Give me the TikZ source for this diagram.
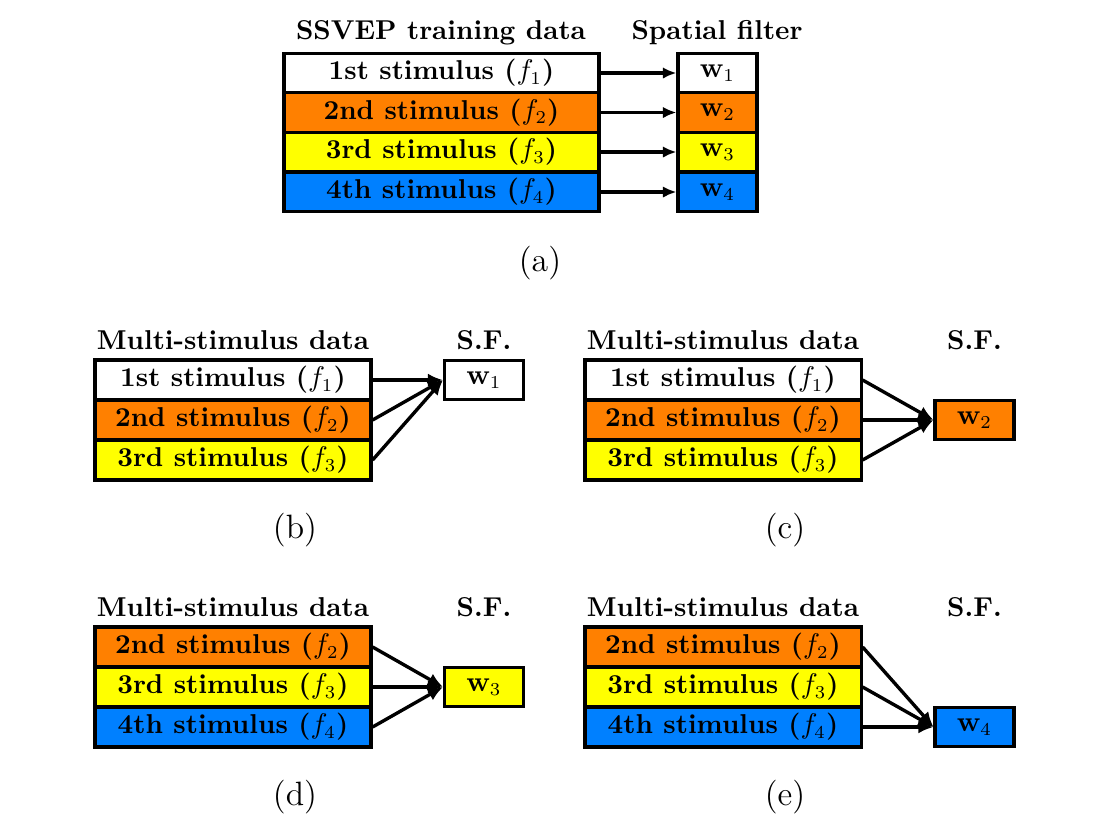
\documentclass[tikz,border=0pt]{standalone}
\usetikzlibrary{arrows.meta}
\definecolor{cOr}{RGB}{255,128,0}
\definecolor{cYe}{RGB}{255,255,0}
\definecolor{cBl}{RGB}{0,128,255}
\begin{document}
\begin{tikzpicture}[x=0.385pt,y=-0.385pt,
  every node/.style={font=\fontsize{10.5}{12}\selectfont},
  bigrow/.style={draw,line width=1.2pt,minimum width=121.3pt,minimum height=15.3pt,inner sep=0pt,font=\fontsize{10.5}{12}\selectfont\bfseries},
  midrow/.style={draw,line width=1.2pt,minimum width=106.3pt,minimum height=15.4pt,inner sep=0pt,font=\fontsize{10.5}{12}\selectfont\bfseries},
  wbox/.style={draw,line width=1.2pt,minimum width=30.4pt,minimum height=15.3pt,inner sep=0pt},
  hdr/.style={font=\fontsize{10.5}{12}\selectfont\bfseries,inner sep=0pt},
  sublabel/.style={inner sep=0pt,font=\fontsize{13}{15}\selectfont},
  arr/.style={line width=1.3pt,-{Latex[length=5.2pt,width=4.4pt]}},
  arrb/.style={line width=1.3pt,-{Latex[length=5.8pt,width=5pt]}}]
\useasboundingbox (0,0) rectangle (1105,838);
% (a)
\node[hdr] (ha) at (441,33) {SSVEP training data};
\node[hdr] (hsa) at (717,33) {Spatial filter};
\node[bigrow,fill=white] (a1) at (441.5,73) {1st stimulus ($f_1$)};
\node[bigrow,fill=cOr] (a2) at (441.5,112.5) {2nd stimulus ($f_2$)};
\node[bigrow,fill=cYe] (a3) at (441.5,152) {3rd stimulus ($f_3$)};
\node[bigrow,fill=cBl] (a4) at (441.5,192) {4th stimulus ($f_4$)};
\node[wbox,fill=white] (aw1) at (717.5,73) {$\mathbf{w}_1$};
\node[wbox,fill=cOr] (aw2) at (717.5,112.5) {$\mathbf{w}_2$};
\node[wbox,fill=cYe] (aw3) at (717.5,152) {$\mathbf{w}_3$};
\node[wbox,fill=cBl] (aw4) at (717.5,192) {$\mathbf{w}_4$};
\foreach \i in {1,...,4} \draw[arr] (a\i) -- (aw\i);
\node[sublabel] (la) at (540,263) {(a)};
% (b)
\node[hdr] (hb) at (233,340) {Multi-stimulus data};
\node[hdr] (hsb) at (484,340) {S.F.};
\node[midrow,fill=white] (b1) at (233,380) {1st stimulus ($f_1$)};
\node[midrow,fill=cOr] (b2) at (233,420) {2nd stimulus ($f_2$)};
\node[midrow,fill=cYe] (b3) at (233,460) {3rd stimulus ($f_3$)};
\node[wbox,fill=white] (bw) at (484,380) {$\mathbf{w}_1$};
\foreach \i in {1,2,3} \draw[arrb] (b\i.east) -- (bw.west);
\node[sublabel] (lb) at (295,530) {(b)};
% (c)
\node[hdr] (hc) at (723,340) {Multi-stimulus data};
\node[hdr] (hsc) at (974.5,340) {S.F.};
\node[midrow,fill=white] (c1) at (723,380) {1st stimulus ($f_1$)};
\node[midrow,fill=cOr] (c2) at (723,420) {2nd stimulus ($f_2$)};
\node[midrow,fill=cYe] (c3) at (723,460) {3rd stimulus ($f_3$)};
\node[wbox,fill=cOr] (cw) at (974.5,420) {$\mathbf{w}_2$};
\foreach \i in {1,2,3} \draw[arrb] (c\i.east) -- (cw.west);
\node[sublabel] (lc) at (785,530) {(c)};
% (d)
\node[hdr] (hd) at (233,607) {Multi-stimulus data};
\node[hdr] (hsd) at (484,607) {S.F.};
\node[midrow,fill=cOr] (d1) at (233,647) {2nd stimulus ($f_2$)};
\node[midrow,fill=cYe] (d2) at (233,687) {3rd stimulus ($f_3$)};
\node[midrow,fill=cBl] (d3) at (233,727) {4th stimulus ($f_4$)};
\node[wbox,fill=cYe] (dw) at (484,687) {$\mathbf{w}_3$};
\foreach \i in {1,2,3} \draw[arrb] (d\i.east) -- (dw.west);
\node[sublabel] (ld) at (295,797) {(d)};
% (e)
\node[hdr] (he) at (723,607) {Multi-stimulus data};
\node[hdr] (hse) at (974.5,607) {S.F.};
\node[midrow,fill=cOr] (e1) at (723,647) {2nd stimulus ($f_2$)};
\node[midrow,fill=cYe] (e2) at (723,687) {3rd stimulus ($f_3$)};
\node[midrow,fill=cBl] (e3) at (723,727) {4th stimulus ($f_4$)};
\node[wbox,fill=cBl] (ew) at (974.5,727) {$\mathbf{w}_4$};
\foreach \i in {1,2,3} \draw[arrb] (e\i.east) -- (ew.west);
\node[sublabel] (le) at (785,797) {(e)};
\end{tikzpicture}
\end{document}
